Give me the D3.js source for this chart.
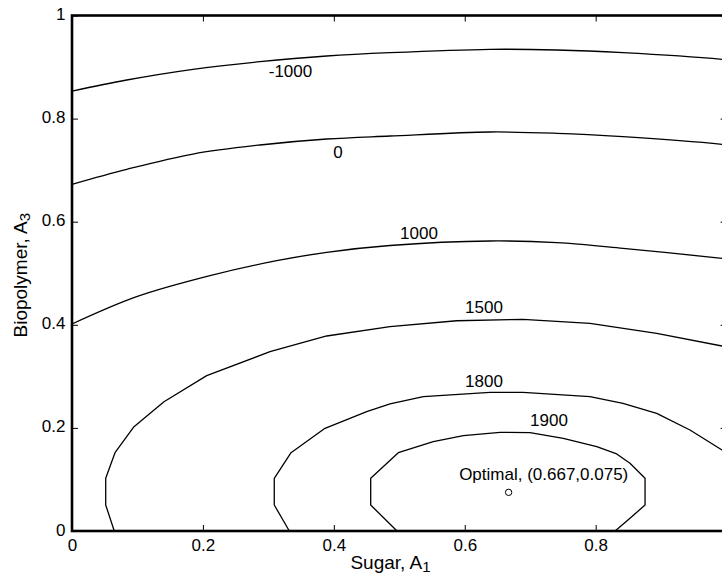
<!DOCTYPE html>
<html>
<head>
<meta charset="utf-8">
<script src="https://cdn.jsdelivr.net/npm/d3@7/dist/d3.min.js"></script>
<style>
  html, body { margin: 0; padding: 0; background: #fff; }
  svg { display: block; }
  text { font-family: "Liberation Sans", Arial, Helvetica, sans-serif; fill: #000; }
</style>
</head>
<body>
<svg id="chart" width="722" height="582"></svg>
<script>
// ---- data ----
const xTicks = [0, 0.2, 0.4, 0.6, 0.8, 1];
const yTicks = [0, 0.2, 0.4, 0.6, 0.8, 1];
// the label of x = 1 falls outside the visible picture in the reference
const xTickLabels = ["0", "0.2", "0.4", "0.6", "0.8", ""];
const yTickLabels = ["0", "0.2", "0.4", "0.6", "0.8", "1"];

const levels = [-1000, 0, 1000, 1500, 1800, 1900];

// contour line points [Sugar A1, Biopolymer A3]
const contourM1000 = [[0,0.8535],[0.0836,0.8749],[0.1848,0.8956],[0.2872,0.9104],[0.3891,0.9214],[0.4858,0.9279],[0.6386,0.9344],[0.7405,0.9331],[0.8417,0.9279],[0.993,0.9150],[1,0.914]];
const contour0 = [[0,0.6726],[0.0836,0.7016],[0.1848,0.7313],[0.2872,0.7488],[0.3891,0.7604],[0.4858,0.7662],[0.6386,0.7740],[0.7405,0.7715],[0.8417,0.7649],[0.993,0.7501],[1,0.749]];
const contour1000 = [[0,0.4015],[0.0988,0.4545],[0.2108,0.4953],[0.3127,0.5243],[0.3891,0.5406],[0.4858,0.5538],[0.6386,0.5626],[0.7405,0.5593],[0.8417,0.5484],[0.993,0.5290],[1,0.528]];
const contour1500 = [[0.0646,0],[0.0515,0.0504],[0.0515,0.1022],[0.0657,0.1519],[0.0947,0.2023],[0.1405,0.2508],[0.2058,0.3013],[0.3025,0.3478],[0.3891,0.3783],[0.4858,0.3963],[0.5877,0.4079],[0.6890,0.4107],[0.7913,0.4029],[0.8932,0.3835],[0.993,0.3589],[1,0.357]];
const contour1800 = [[0.3320,0],[0.3090,0.0504],[0.3090,0.1022],[0.3346,0.1519],[0.3865,0.1992],[0.4502,0.2314],[0.4858,0.2464],[0.5367,0.2605],[0.6386,0.2691],[0.6890,0.2691],[0.7913,0.2605],[0.8417,0.2477],[0.8932,0.2283],[0.9440,0.1959],[0.993,0.1571],[1,0.151]];
const contour1900 = [[0.4965,0],[0.4563,0.0504],[0.4563,0.1022],[0.4985,0.1519],[0.5519,0.1732],[0.5978,0.1849],[0.6538,0.1915],[0.6997,0.1907],[0.7505,0.1798],[0.8016,0.1635],[0.8321,0.1494],[0.8524,0.1313],[0.8754,0.1022],[0.8754,0.0504],[0.8524,0.0246],[0.8346,0.0052],[0.8295,0]];

const contours = [contourM1000, contour0, contour1000, contour1500, contour1800, contour1900];
const smoothContour = [true, true, true, false, false, false];

// label positions (data coords: center x, baseline y)
const labelX = [0.3338, 0.4064, 0.5301, 0.6294, 0.6294, 0.7287];
const labelY = [0.8807, 0.7230, 0.5659, 0.4223, 0.2799, 0.2037];

const optimal = [0.667, 0.075];
const optimalText = "Optimal, (0.667,0.075)";
const optimalTextPos = [0.7206, 0.0989];

const xTitle = "Sugar, A";
const xTitleSub = "1";
const yTitle = "Biopolymer, A";
const yTitleSub = "3";

// ---- layout ----
const svg = d3.select("#chart");
const plotLeft = 72, plotRight = 726.6, plotTop = 15.5, plotBottom = 531;
const x = d3.scaleLinear().domain([0, 1]).range([plotLeft, plotRight]);
const y = d3.scaleLinear().domain([0, 1]).range([plotBottom, plotTop]);
const FS = 17;

// contour lines
contours.forEach((pts, i) => {
  const line = d3.line()
    .x(d => x(d[0])).y(d => y(d[1]))
    .curve(smoothContour[i] ? d3.curveCatmullRom.alpha(0.5) : d3.curveLinear);
  svg.append("path")
    .attr("d", line(pts))
    .attr("fill", "none")
    .attr("stroke", "#000")
    .attr("stroke-width", 1.3)
    .attr("stroke-linejoin", "round");
});

// contour labels
svg.append("g").selectAll("text")
  .data(levels)
  .join("text")
  .attr("x", (d, i) => x(labelX[i]))
  .attr("y", (d, i) => y(labelY[i]))
  .attr("text-anchor", "middle")
  .attr("font-size", FS)
  .text(d => String(d));

// optimal point + label
svg.append("circle")
  .attr("cx", x(optimal[0])).attr("cy", y(optimal[1]))
  .attr("r", 3.2).attr("fill", "none").attr("stroke", "#000").attr("stroke-width", 1);
svg.append("text")
  .attr("x", x(optimalTextPos[0])).attr("y", y(optimalTextPos[1]))
  .attr("text-anchor", "middle").attr("font-size", FS)
  .text(optimalText);

// axes (inward ticks)
function styleAxis(g) {
  g.select(".domain").remove();
  g.selectAll(".tick line").attr("stroke", "#000").attr("stroke-width", 1);
  g.selectAll(".tick text").attr("font-size", FS).attr("font-family", "Liberation Sans, Arial, sans-serif").attr("fill", "#000");
}
const xb = svg.append("g").attr("transform", `translate(0,${plotBottom})`)
  .call(d3.axisBottom(x).tickValues(xTicks).tickFormat((d, i) => xTickLabels[i]).tickSizeInner(-6).tickSizeOuter(0).tickPadding(8));
styleAxis(xb);
xb.selectAll(".tick text").attr("dy", "0.71em");
xb.selectAll(".tick text").filter(function () { return this.textContent === ""; }).remove();

const xt = svg.append("g").attr("transform", `translate(0,${plotTop})`)
  .call(d3.axisTop(x).tickValues(xTicks).tickFormat("").tickSizeInner(-6).tickSizeOuter(0));
styleAxis(xt);
xt.selectAll(".tick text").remove();

const yl = svg.append("g").attr("transform", `translate(${plotLeft},0)`)
  .call(d3.axisLeft(y).tickValues(yTicks).tickFormat((d, i) => yTickLabels[i]).tickSizeInner(-6).tickSizeOuter(0).tickPadding(6.5));
styleAxis(yl);
yl.selectAll(".tick text").attr("dy", "0.24em");

const yr = svg.append("g").attr("transform", `translate(${plotRight},0)`)
  .call(d3.axisRight(y).tickValues(yTicks).tickFormat("").tickSizeInner(-6).tickSizeOuter(0));
styleAxis(yr);
yr.selectAll(".tick text").remove();

// box
svg.append("rect")
  .attr("x", plotLeft).attr("y", plotTop)
  .attr("width", plotRight - plotLeft).attr("height", plotBottom - plotTop)
  .attr("fill", "none").attr("stroke", "#000").attr("stroke-width", 2.6);

// axis titles
const xt1 = svg.append("text")
  .attr("x", 390.5).attr("y", 569)
  .attr("text-anchor", "middle").attr("font-size", 19);
xt1.append("tspan").text(xTitle);
xt1.append("tspan").attr("font-size", 15).attr("dy", 3).text(xTitleSub);

const yt1 = svg.append("text")
  .attr("transform", `translate(27,${(plotTop + plotBottom) / 2 + 2}) rotate(-90)`)
  .attr("text-anchor", "middle").attr("font-size", 19);
yt1.append("tspan").text(yTitle);
yt1.append("tspan").attr("font-size", 15).attr("dy", 3).text(yTitleSub);
</script>
</body>
</html>
